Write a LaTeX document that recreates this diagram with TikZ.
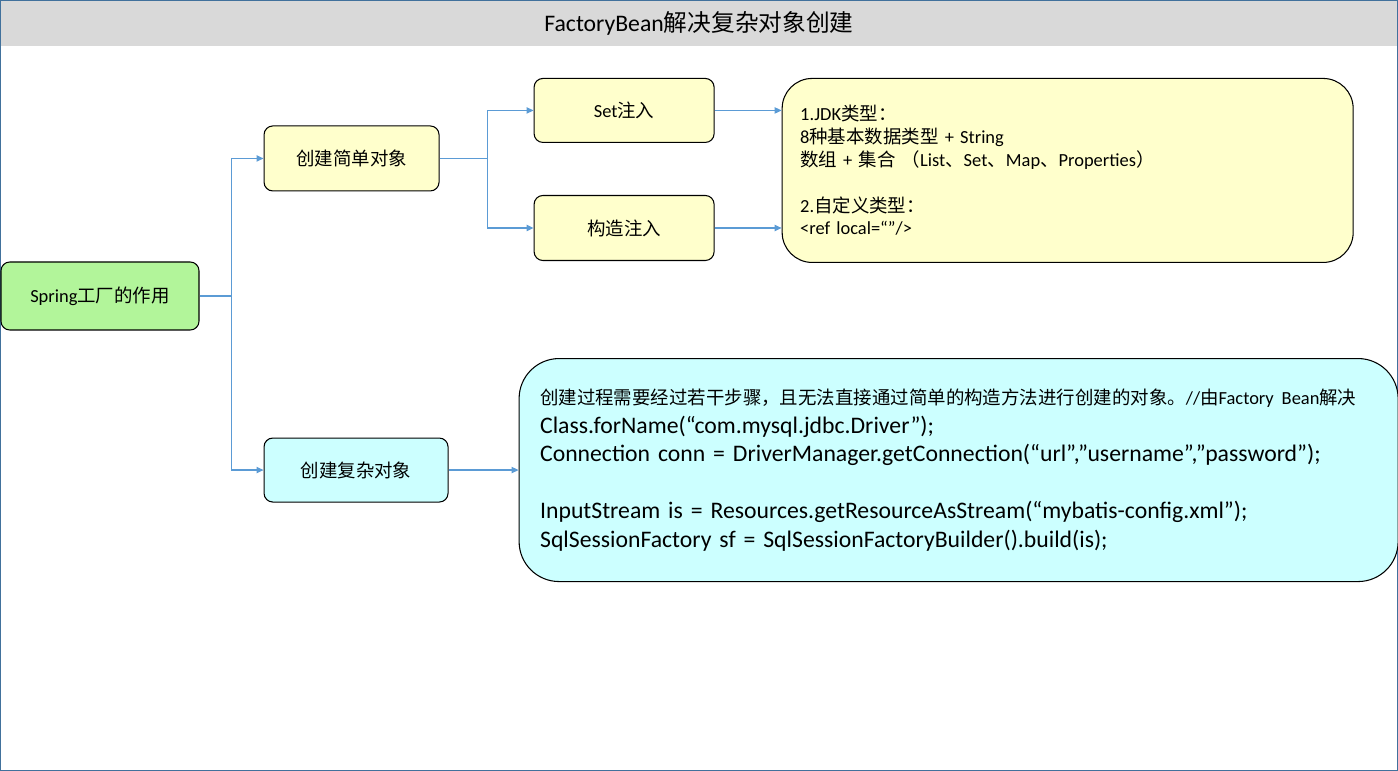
\documentclass[tikz,border=0pt]{standalone}
\usepackage{fontspec}
\setmainfont{Carlito}
\newfontfamily\cjk{Noto Sans CJK SC}
\usetikzlibrary{arrows.meta,positioning}

\definecolor{frameblue}{RGB}{65,113,156}
\definecolor{titlegray}{RGB}{217,217,217}
\definecolor{linkblue}{RGB}{91,155,213}
\definecolor{springgreen}{RGB}{178,245,154}
\definecolor{boxyellow}{RGB}{255,255,204}
\definecolor{boxcyan}{RGB}{204,255,255}

\newcommand{\zh}[1]{{\cjk #1}}

\begin{document}
\begin{tikzpicture}[
  box/.style={draw, rounded corners=5pt, align=center, minimum width=3.6cm, minimum height=1.28cm, font=\fontsize{10.5}{12.6}\selectfont, fill=boxyellow, line width=0.6pt},
  panel/.style={draw, align=left, line width=0.6pt, font=\fontsize{10.5}{13}\selectfont},
  titlebar/.style={fill=titlegray, minimum width=27.96cm, minimum height=0.92cm, inner sep=0pt, font=\fontsize{13.5}{16}\selectfont},
  link/.style={linkblue, line width=0.7pt},
  arr/.style={-{Triangle[length=4pt,width=3.6pt]}, linkblue, line width=0.7pt}
]
\useasboundingbox (0,0) rectangle (27.96,-15.42);

\node[titlebar] (title) at (13.98,-0.46) {FactoryBean\zh{解决复杂对象创建}};
\draw[frameblue, line width=0.7pt] (0.01,-0.01) rectangle (27.95,-15.41);

\node[box, fill=springgreen, minimum width=3.96cm, minimum height=1.36cm] (spring) at (2.0,-5.92) {Spring\zh{工厂的作用}};
\node[box, above right=1.4cm and 1.28cm of spring, minimum width=3.5cm, minimum height=1.3cm] (simple) {\zh{创建简单对象}};
\node[box, fill=boxcyan, below right=2.14cm and 1.28cm of spring, minimum width=3.68cm] (complex) {\zh{创建复杂对象}};

\node[box, right=1.88cm of simple, yshift=0.96cm] (setinj) {Set\zh{注入}};
\node[box, below=1.04cm of setinj, minimum height=1.3cm] (ctor) {\zh{构造注入}};

\node[panel, fill=boxyellow, rounded corners=0.6cm, right=1.34cm of setinj.north east, anchor=north west,
  text width=10.7cm, inner xsep=0.36cm, minimum height=3.68cm] (jdk)
  {1.JDK\zh{类型：}\\
   8\zh{种基本数据类型} + String\\
   \zh{数组} + \zh{集合 （}List\zh{、}Set\zh{、}Map\zh{、}Properties\zh{）}\\[13pt]
   2.\zh{自定义类型：}\\
   <ref local=“”/>};

\node[panel, fill=boxcyan, rounded corners=0.8cm, right=1.4cm of complex,
  text width=16.74cm, inner xsep=0.42cm, minimum height=4.46cm, font=\fontsize{13.5}{16.3}\selectfont] (code)
  {\mbox{\fontsize{10.5}{13}\selectfont\zh{创建过程需要经过若干步骤，且无法直接通过简单的构造方法进行创建的对象。}//\zh{由}Factory Bean\zh{解决}}\\
   Class.forName(“com.mysql.jdbc.Driver”);\\
   Connection conn = DriverManager.getConnection(“url”,”username”,”password”);\\[16pt]
   InputStream is = Resources.getResourceAsStream(“mybatis-config.xml”);\\
   SqlSessionFactory sf = SqlSessionFactoryBuilder().build(is);};

% connectors
\coordinate[right=0.64cm of spring.east] (fork1);
\draw[link] (spring) -- (fork1);
\draw[arr] (fork1) |- (simple);
\draw[arr] (fork1) |- (complex);

\coordinate[right=0.96cm of simple.east] (fork2);
\draw[link] (simple) -- (fork2);
\draw[arr] (fork2) |- (setinj);
\draw[arr] (fork2) |- (ctor);

\draw[arr] (setinj) -- (setinj -| jdk.west);
\draw[arr] (ctor) -- (ctor -| jdk.west);
\draw[arr] (complex) -- (code);

\end{tikzpicture}
\end{document}
